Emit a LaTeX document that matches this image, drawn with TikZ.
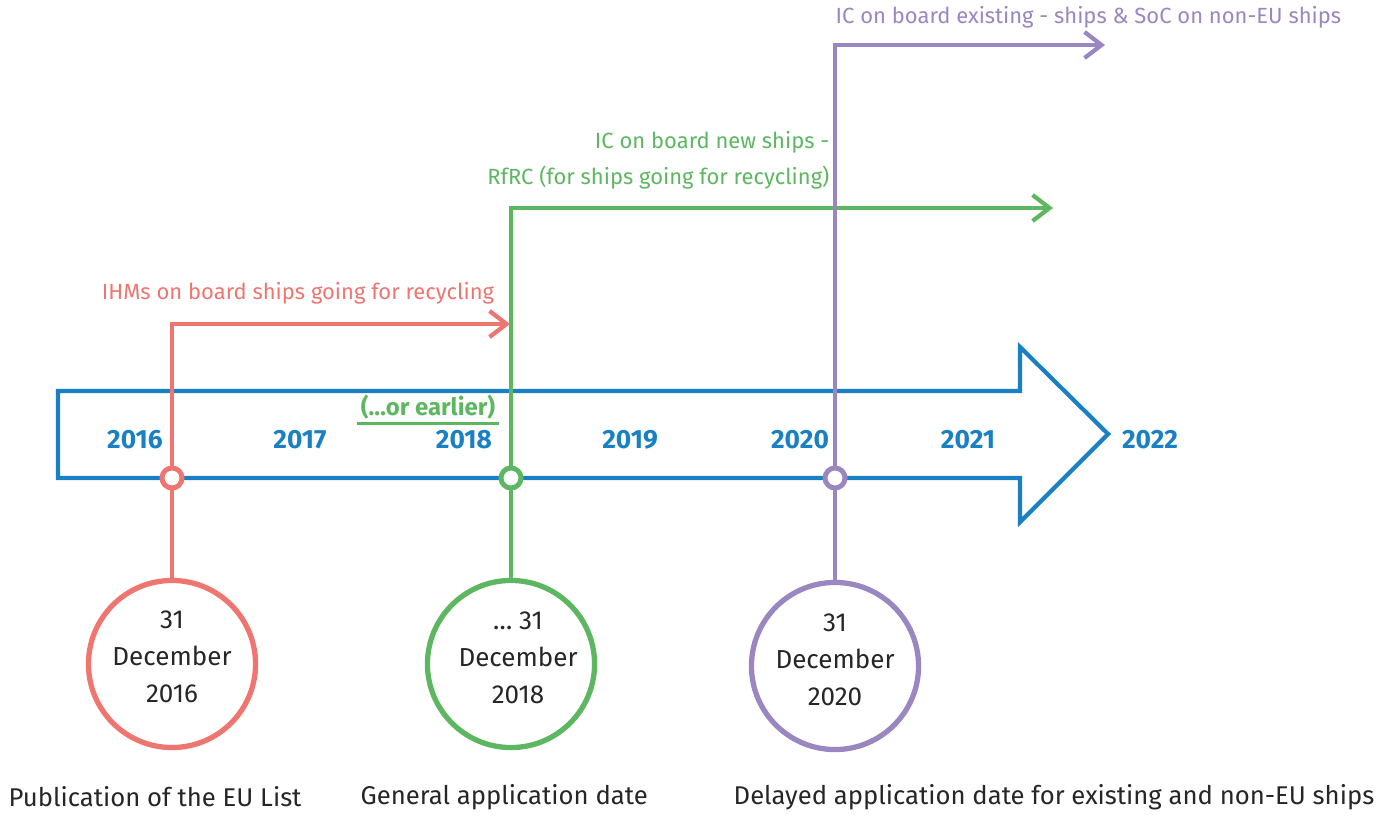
\documentclass[tikz,border=0pt]{standalone}
\usepackage{fontspec}
\setmainfont{Fira Sans}
\usetikzlibrary{arrows.meta}
\definecolor{lineblue}{HTML}{1A80C4}
\definecolor{linered}{HTML}{EE7570}
\definecolor{linegreen}{HTML}{5DB761}
\definecolor{linepurple}{HTML}{9A86C0}
\tikzset{
  year/.style={text=lineblue, font=\bfseries\fontsize{7.5}{9}\selectfont},
  tag/.style={font=\fontsize{6.25}{8}\selectfont, inner sep=0pt},
  datecircle/.style={circle, line width=1.5pt, fill=white, minimum size=1.67cm, inner sep=0pt},
  datetext/.style={align=center, text=black!85, font=\fontsize{7.4}{10.5}\selectfont},
  dot/.style={circle, line width=1.4pt, fill=white, minimum size=0.2cm, inner sep=0pt},
  track/.style={line width=1.2pt, -{Straight Barb[length=1.7mm, width=2.6mm]}},
  caption/.style={font=\fontsize{7.3}{8}\selectfont, text=black!85, anchor=west, inner sep=0pt}
}
\begin{document}
\begin{tikzpicture}[x=0.01cm, y=-0.01cm]
                \useasboundingbox (0,0) rectangle (1395,816);

                \coordinate (R1) at (172,324);
                \coordinate (R2) at (510,324);
                \coordinate (G1) at (511,208);
                \coordinate (G2) at (1053,208);
                \coordinate (P1) at (835,45);
                \coordinate (P2) at (1105,45);

                \draw[line width=1.2pt, draw=lineblue, line join=miter]
                      (58,391) -- (1020,391) -- (1020,347) -- (1108,434)
                      -- (1020,522) -- (1020,478) -- (58,478) -- cycle;

                \node[year] (y16) at (135,440) {2016};
                \node[year] (y17) at (300,440) {2017};
                \node[year] (y18) at (464,440) {2018};
                \node[year] (y19) at (630,440) {2019};
                \node[year] (y20) at (800,440) {2020};
                \node[year] (y21) at (968,440) {2021};
                \node[year] (y22) at (1150,440) {2022};

                \node[datecircle, draw=linered] (c16) at (172,664) {};
                \node[datecircle, draw=linegreen] (c18) at (511,664) {};
                \node[datecircle, draw=linepurple] (c20) at (835,666) {};
                \node[datetext] (t16) at ([yshift=0.07cm]c16.center) {31\\December\\2016};
                \node[datetext] (t18) at ([xshift=0.07cm, yshift=0.06cm]c18.center) {\ldots\ 31\\December\\2018};
                \node[datetext] (t20) at ([yshift=0.06cm]c20.center) {31\\December\\2020};

                \draw[track, linered] (c16.north) -- (R1) -- (R2);
                \draw[track, linegreen] (c18.north) -- (G1) -- (G2);
                \draw[track, linepurple] (c20.north) -- (P1) -- (P2);

                \node[dot, draw=linered] (d16) at (172,478) {};
                \node[dot, draw=linegreen] (d18) at (511,478) {};
                \node[dot, draw=linepurple] (d20) at (835,478) {};

                \node[tag, text=linered] (ihm) at (298,293) {IHMs on board ships going for recycling};
                \node[tag, text=linegreen, anchor=east] (icnew) at (830,142) {IC on board new ships -};
                \node[tag, text=linegreen, anchor=east] (rfrc) at (830,178) {RfRC (for ships going for recycling)};
                \node[tag, text=linepurple, anchor=west] (icold) at (835,17) {IC on board existing - ships \& SoC on non-EU ships};
                \node[tag, text=linegreen, font=\bfseries\fontsize{6.8}{8}\selectfont, inner sep=1pt] (early) at (428,407) {(\ldots or earlier)};
                \draw[linegreen, line width=0.7pt] (early.south west) -- (early.south east);

                \node[caption] (cap16) at (8,797) {Publication of the EU List};
                \node[caption] (cap18) at (360,797) {General application date};
                \node[caption] (cap20) at (733,797) {Delayed application date for existing and non-EU ships};
            \end{tikzpicture}
\end{document}
